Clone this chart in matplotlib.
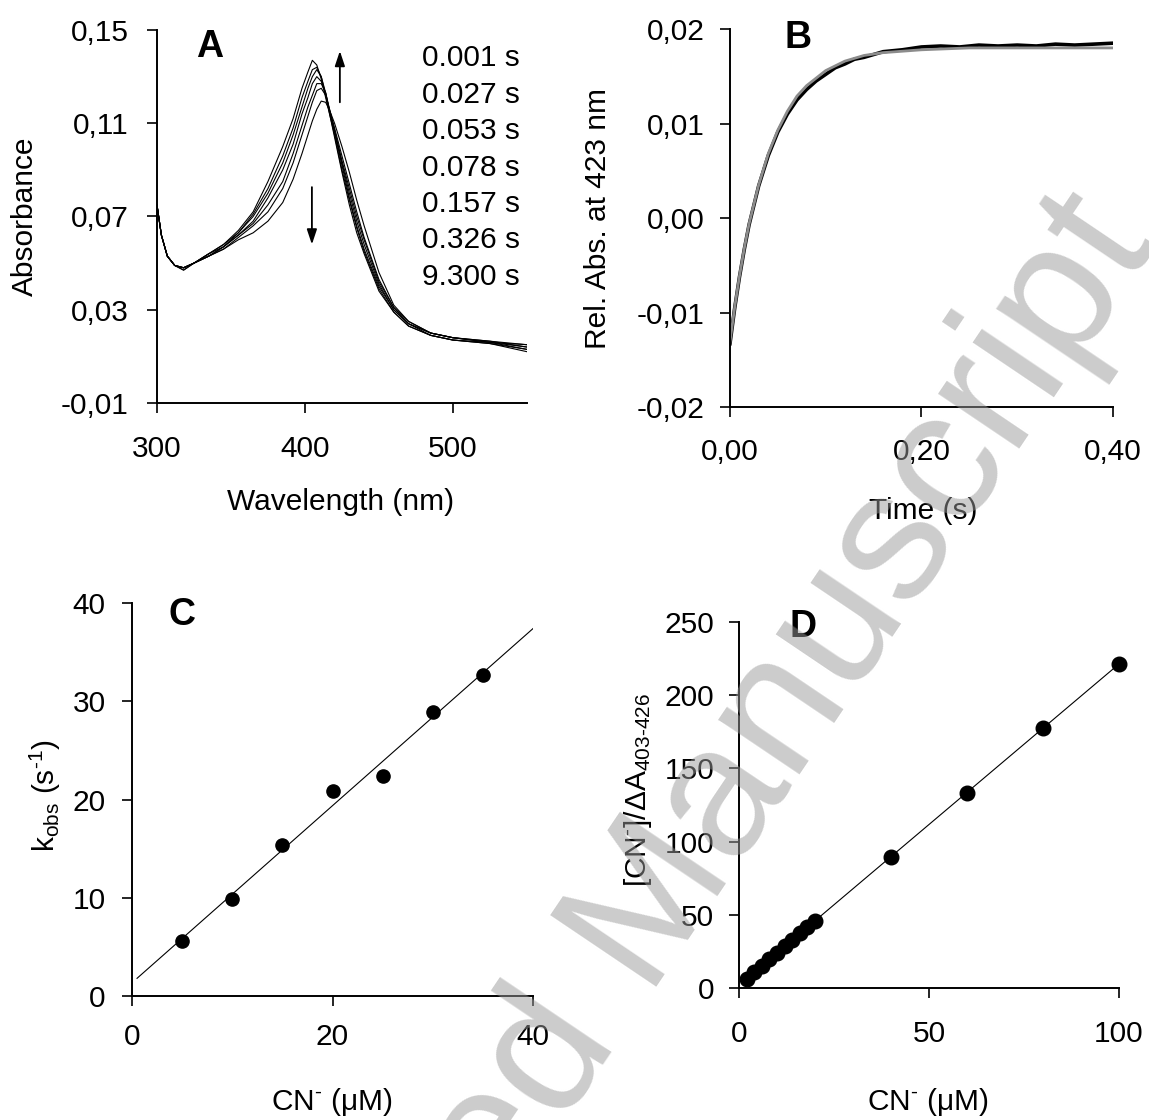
import numpy as np
import matplotlib
matplotlib.use("Agg")
import matplotlib.pyplot as plt
from matplotlib.ticker import FuncFormatter

plt.rcParams['font.family'] = ['Liberation Sans', 'DejaVu Sans']
plt.rcParams['mathtext.fontset'] = 'custom'
plt.rcParams['mathtext.rm'] = 'Liberation Sans'
plt.rcParams['mathtext.it'] = 'Liberation Sans:italic'
plt.rcParams['axes.unicode_minus'] = False

# ---- Panel A: spectra at different times ----
wavelength = [300, 303, 307, 312, 318, 325, 335, 345, 355, 365, 375, 385, 392, 398,
              402, 405, 408, 411, 414, 417, 420, 425, 430, 435, 440, 450, 460, 470,
              485, 500, 525, 550]
times_lbl = ["0.001 s", "0.027 s", "0.053 s", "0.078 s", "0.157 s", "0.326 s", "9.300 s"]
spec_0001 = [0.075, 0.062, 0.053, 0.049, 0.048, 0.050, 0.054, 0.058, 0.064, 0.072, 0.085, 0.100, 0.112, 0.125,
             0.132, 0.137, 0.135, 0.129, 0.121, 0.113, 0.104, 0.089, 0.075, 0.063, 0.054, 0.038, 0.029, 0.023,
             0.019, 0.017, 0.0155, 0.012]
spec_0027 = [0.075, 0.062, 0.053, 0.049, 0.047, 0.050, 0.054, 0.058, 0.063, 0.071, 0.082, 0.096, 0.108, 0.121,
             0.128, 0.133, 0.134, 0.130, 0.122, 0.113, 0.105, 0.090, 0.077, 0.065, 0.055, 0.039, 0.029, 0.023,
             0.019, 0.017, 0.016, 0.013]
spec_0053 = [0.075, 0.062, 0.053, 0.049, 0.048, 0.050, 0.054, 0.057, 0.063, 0.070, 0.080, 0.093, 0.105, 0.117,
             0.125, 0.130, 0.133, 0.130, 0.123, 0.114, 0.106, 0.092, 0.078, 0.066, 0.056, 0.040, 0.030, 0.024,
             0.019, 0.017, 0.0155, 0.013]
spec_0078 = [0.075, 0.062, 0.053, 0.049, 0.048, 0.050, 0.053, 0.057, 0.062, 0.068, 0.078, 0.090, 0.101, 0.114,
             0.121, 0.127, 0.130, 0.128, 0.123, 0.114, 0.107, 0.093, 0.080, 0.068, 0.058, 0.041, 0.030, 0.024,
             0.020, 0.018, 0.016, 0.014]
spec_0157 = [0.075, 0.062, 0.053, 0.049, 0.047, 0.050, 0.053, 0.057, 0.062, 0.067, 0.075, 0.085, 0.097, 0.109,
             0.117, 0.122, 0.127, 0.127, 0.123, 0.115, 0.107, 0.094, 0.082, 0.070, 0.060, 0.042, 0.031, 0.024,
             0.020, 0.018, 0.0165, 0.014]
spec_0326 = [0.075, 0.062, 0.053, 0.049, 0.048, 0.050, 0.053, 0.056, 0.061, 0.066, 0.072, 0.082, 0.093, 0.105,
             0.113, 0.119, 0.124, 0.125, 0.122, 0.115, 0.108, 0.096, 0.084, 0.072, 0.061, 0.043, 0.031, 0.025,
             0.020, 0.018, 0.016, 0.015]
spec_9300 = [0.075, 0.062, 0.053, 0.049, 0.048, 0.050, 0.053, 0.056, 0.060, 0.063, 0.068, 0.076, 0.086, 0.097,
             0.105, 0.111, 0.116, 0.1195, 0.119, 0.115, 0.110, 0.100, 0.089, 0.077, 0.066, 0.046, 0.032, 0.025,
             0.020, 0.018, 0.0165, 0.015]
spectra = [spec_0001, spec_0027, spec_0053, spec_0078, spec_0157, spec_0326, spec_9300]

# ---- Panel B: kinetic trace at 423 nm and fit ----
time_fit = [0.000, 0.005, 0.010, 0.015, 0.020, 0.030, 0.040, 0.050, 0.060, 0.070, 0.080,
            0.100, 0.120, 0.140, 0.160, 0.200, 0.250, 0.300, 0.400]
abs_fit = [-0.0131, -0.0094, -0.0061, -0.0032, -0.0006, 0.0035, 0.0068, 0.0093, 0.0113, 0.0129, 0.0140,
           0.0156, 0.0166, 0.0172, 0.0175, 0.0178, 0.0180, 0.0180, 0.0180]
time_obs = [0.000, 0.005, 0.010, 0.015, 0.020, 0.030, 0.040, 0.050, 0.060, 0.070, 0.080, 0.090,
            0.100, 0.110, 0.120, 0.130, 0.140, 0.150, 0.160, 0.180, 0.200, 0.220, 0.240, 0.260,
            0.280, 0.300, 0.320, 0.340, 0.360, 0.380, 0.400]
abs_obs = [-0.0133, -0.0095, -0.0062, -0.0033, -0.0007, 0.0034, 0.0066, 0.0091, 0.0110, 0.0125, 0.0136, 0.0145,
           0.0152, 0.0159, 0.0163, 0.0168, 0.0170, 0.0173, 0.0176, 0.0178, 0.0181, 0.0182, 0.0181, 0.0183,
           0.0182, 0.0183, 0.0182, 0.0184, 0.0183, 0.0184, 0.0185]

# ---- Panel C: kobs vs cyanide ----
cn_c = [5, 10, 15, 20, 25, 30, 35]
kobs = [5.6, 9.9, 15.4, 20.9, 22.4, 28.9, 32.7]
fit_c_x = [0.5, 40]
fit_c_y = [1.8, 37.4]

# ---- Panel D: [CN-]/dA vs cyanide ----
cn_d = [2, 4, 6, 8, 10, 12, 14, 16, 18, 20, 40, 60, 80, 100]
ratio_d = [6.2, 10.8, 15.3, 19.6, 24.1, 28.4, 32.9, 37.2, 41.5, 46.0, 89.7, 133.4, 177.4, 221.3]
fit_d_x = [1.5, 100]
fit_d_y = [5.3, 221.3]

FS = 21.5
W, H = 1149, 1120
fig = plt.figure(figsize=(W / 100, H / 100), dpi=100)


def comma(fmt):
    return FuncFormatter(lambda v, p: (fmt % v).replace('.', ','))


def style(ax, xpad, ypad):
    for s in ['top', 'right']:
        ax.spines[s].set_visible(False)
    for s in ['left', 'bottom']:
        ax.spines[s].set_linewidth(1.4)
    ax.tick_params(direction='out', length=7, width=1.2, labelsize=FS)
    ax.tick_params(axis='x', pad=xpad)
    ax.tick_params(axis='y', pad=ypad)


axA = fig.add_axes([0.1366, 0.6402, 0.322, 0.333])
axB = fig.add_axes([0.6353, 0.6366, 0.3333, 0.3375])
axC = fig.add_axes([0.1149, 0.1107, 0.349, 0.3509])
axD = fig.add_axes([0.6432, 0.1179, 0.3307, 0.3268])

# A
for sp in spectra:
    axA.plot(wavelength, sp, color='black', lw=0.8)
axA.set_xlim(300, 550)
axA.set_ylim(-0.01, 0.15)
axA.set_xticks([300, 400, 500])
axA.set_yticks([-0.01, 0.03, 0.07, 0.11, 0.15])
axA.yaxis.set_major_formatter(comma('%.2f'))
style(axA, 16, 13.5)
axA.text(-0.357, 0.5, 'Absorbance', transform=axA.transAxes, rotation=90,
         ha='center', va='center', fontsize=FS)
axA.text(0.495, -0.265, 'Wavelength (nm)', transform=axA.transAxes,
         ha='center', va='center', fontsize=FS)
axA.text(0.143, 0.954, 'A', transform=axA.transAxes, ha='center', va='center',
         fontsize=27, fontweight='bold')
for i, lbl in enumerate(times_lbl):
    axA.text(0.716, (403 - (58 + 36.5 * i)) / 373, lbl, transform=axA.transAxes,
             ha='left', va='center', fontsize=FS)
axA.annotate('', xy=(423.6, 0.141), xytext=(423.6, 0.119),
             arrowprops=dict(arrowstyle='-|>,head_length=0.9,head_width=0.3',
                             color='black', lw=1.3, shrinkA=0, shrinkB=0))
axA.annotate('', xy=(404.7, 0.058), xytext=(404.7, 0.0826),
             arrowprops=dict(arrowstyle='-|>,head_length=0.9,head_width=0.3',
                             color='black', lw=1.3, shrinkA=0, shrinkB=0))

# B
axB.plot(time_obs, abs_obs, color='black', lw=2.6)
axB.plot(time_fit, abs_fit, color='#8c8c8c', lw=2.0)
axB.set_xlim(0, 0.4)
axB.set_ylim(-0.02, 0.02)
axB.set_xticks([0, 0.2, 0.4])
axB.set_yticks([-0.02, -0.01, 0, 0.01, 0.02])
axB.xaxis.set_major_formatter(comma('%.2f'))
axB.yaxis.set_major_formatter(comma('%.2f'))
style(axB, 15.5, 11)
axB.text(-0.345, 0.5, 'Rel. Abs. at 423 nm', transform=axB.transAxes, rotation=90,
         ha='center', va='center', fontsize=FS)
axB.text(0.504, -0.275, 'Time (s)', transform=axB.transAxes,
         ha='center', va='center', fontsize=FS)
axB.text(0.178, 0.976, 'B', transform=axB.transAxes, ha='center', va='center',
         fontsize=27, fontweight='bold')

# C
axC.plot(fit_c_x, fit_c_y, color='black', lw=0.8)
axC.plot(cn_c, kobs, 'o', color='black', ms=9.5, clip_on=False)
axC.set_xlim(0, 40)
axC.set_ylim(0, 40)
axC.set_xticks([0, 20, 40])
axC.set_yticks([0, 10, 20, 30, 40])
style(axC, 12.5, 12)
axC.text(-0.217, 0.511, r'k$_{\rm obs}$ (s$^{\text{-}1}$)', transform=axC.transAxes, rotation=90,
         ha='center', va='center', fontsize=FS)
axC.text(0.499, -0.27, r'CN$^{\text{-}}$ (μM)', transform=axC.transAxes,
         ha='center', va='center', fontsize=FS)
axC.text(0.125, 0.969, 'C', transform=axC.transAxes, ha='center', va='center',
         fontsize=27, fontweight='bold')

# D
axD.plot(fit_d_x, fit_d_y, color='black', lw=0.8)
axD.plot(cn_d, ratio_d, 'o', color='black', ms=10.5, clip_on=False)
axD.set_xlim(0, 100)
axD.set_ylim(0, 250)
axD.set_xticks([0, 50, 100])
axD.set_yticks([0, 50, 100, 150, 200, 250])
style(axD, 16, 11)
axD.text(-0.266, 0.541, r'[CN$^{\text{-}}$]/ΔA$_{\rm 403\text{-}426}$', transform=axD.transAxes,
         rotation=90, ha='center', va='center', fontsize=FS)
axD.text(0.497, -0.311, r'CN$^{\text{-}}$ (μM)', transform=axD.transAxes,
         ha='center', va='center', fontsize=FS)
axD.text(0.168, 0.986, 'D', transform=axD.transAxes, ha='center', va='center',
         fontsize=27, fontweight='bold')

# watermark
fig.text(0.55, 0.163, 'Accepted Manuscript', fontsize=134, color='#999999', alpha=0.5,
         rotation=56, ha='center', va='center', rotation_mode='anchor', zorder=10)

fig.savefig('out.png', dpi=100)
